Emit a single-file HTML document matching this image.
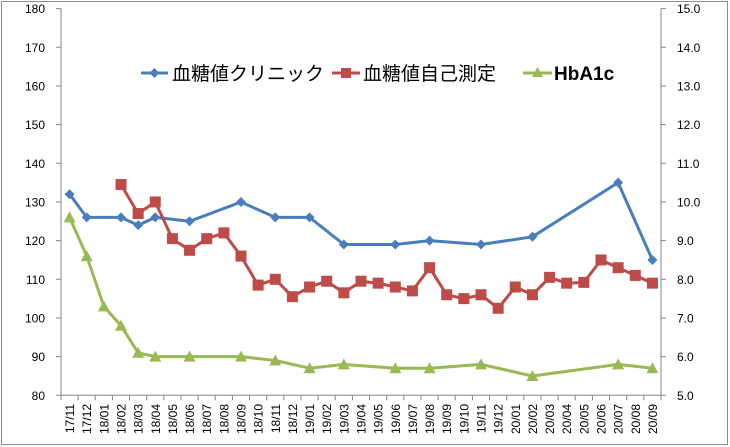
<!DOCTYPE html>
<html><head><meta charset="utf-8"><style>
html,body{margin:0;padding:0;background:#fff;}
svg{display:block;}
text{font-family:"Liberation Sans","Noto Sans CJK JP",sans-serif;}
</style></head><body>
<svg id="c" width="730" height="447" xmlns="http://www.w3.org/2000/svg">
<rect x="1.5" y="1.5" width="726" height="443" fill="#fff" stroke="#8c8c8c" stroke-width="1"/>
<g id="g"></g>
<text x="172" y="80" font-size="19" fill="#000">血糖値クリニック</text>
<text x="363" y="80" font-size="19" fill="#000">血糖値自己測定</text>
<text x="554" y="80" font-size="19" font-weight="bold" fill="#000">HbA1c</text>
<line x1="141" y1="73" x2="168" y2="73" stroke="#4a7ebb" stroke-width="3"/>
<path d="M154.5 68 L159.5 73 L154.5 78 L149.5 73Z" fill="#4a7ebb"/>
<line x1="332" y1="73" x2="360" y2="73" stroke="#be4b48" stroke-width="3"/>
<rect x="341" y="68" width="10" height="10" fill="#be4b48"/>
<line x1="523" y1="73" x2="552" y2="73" stroke="#98b954" stroke-width="3"/>
<path d="M537.5 67 L543 77 L532 77Z" fill="#98b954"/>
</svg>
<script>
var g=document.getElementById('g'),s='';
var L=61,R=661,T=8.6,B=395.3,n=35,w=(R-L)/n;
function Y(v){return B-(v-80)*(B-T)/100;}
function X(i){return L+w*(i+0.5);}
var labs=['17/11','17/12','18/01','18/02','18/03','18/04','18/05','18/06','18/07','18/08','18/09','18/10','18/11','18/12','19/01','19/02','19/03','19/04','19/05','19/06','19/07','19/08','19/09','19/10','19/11','19/12','20/01','20/02','20/03','20/04','20/05','20/06','20/07','20/08','20/09'];
s+='<line x1="'+L+'" y1="'+T+'" x2="'+L+'" y2="'+B+'" stroke="#868686"/>';
s+='<line x1="'+R+'" y1="'+T+'" x2="'+R+'" y2="'+B+'" stroke="#868686"/>';
s+='<line x1="'+L+'" y1="'+B+'" x2="'+R+'" y2="'+B+'" stroke="#868686"/>';
for(var k=0;k<=10;k++){var v=80+k*10,y=Y(v);
s+='<line x1="'+(L-5)+'" y1="'+y+'" x2="'+L+'" y2="'+y+'" stroke="#868686"/>';
s+='<line x1="'+R+'" y1="'+y+'" x2="'+(R+5)+'" y2="'+y+'" stroke="#868686"/>';
s+='<text x="45" y="'+(y+4.5)+'" font-size="12" text-anchor="end">'+v+'</text>';
s+='<text x="677" y="'+(y+4.5)+'" font-size="12">'+(5+k).toFixed(1)+'</text>';}
for(var i=0;i<=n;i++){var x=L+w*i;s+='<line x1="'+x+'" y1="'+B+'" x2="'+x+'" y2="'+(B+5)+'" stroke="#868686"/>';}
for(var i=0;i<n;i++){var x=X(i)+4.5;s+='<text transform="translate('+x+',404) rotate(-90)" font-size="12" text-anchor="end">'+labs[i]+'</text>';}
var blue=[[0,132],[1,126],[3,126],[4,124],[5,126],[7,125],[10,130],[12,126],[14,126],[16,119],[19,119],[21,120],[24,119],[27,121],[32,135],[34,115]];
var red=[[3,134.5],[4,127],[5,130],[6,120.5],[7,117.5],[8,120.5],[9,122],[10,116],[11,108.5],[12,110],[13,105.5],[14,108],[15,109.5],[16,106.5],[17,109.5],[18,109],[19,108],[20,107],[21,113],[22,106],[23,105],[24,106],[25,102.5],[26,108],[27,106],[28,110.5],[29,109],[30,109.2],[31,115],[32,113],[33,111],[34,109]];
var gr=[[0,9.6],[1,8.6],[2,7.3],[3,6.8],[4,6.1],[5,6.0],[7,6.0],[10,6.0],[12,5.9],[14,5.7],[16,5.8],[19,5.7],[21,5.7],[24,5.8],[27,5.5],[32,5.8],[34,5.7]].map(function(p){return [p[0],80+(p[1]-5)*10];});
function line(d,c){return '<polyline fill="none" stroke="'+c+'" stroke-width="3" stroke-linejoin="round" points="'+d.map(function(p){return X(p[0]).toFixed(1)+','+Y(p[1]).toFixed(1);}).join(' ')+'"/>';}
s+=line(blue,'#4a7ebb');
blue.forEach(function(p){var x=X(p[0]),y=Y(p[1]);s+='<path d="M'+x+' '+(y-5)+' L'+(x+5)+' '+y+' L'+x+' '+(y+5)+' L'+(x-5)+' '+y+'Z" fill="#4a7ebb"/>';});
s+=line(red,'#be4b48');
red.forEach(function(p){var x=X(p[0]),y=Y(p[1]);s+='<rect x="'+(x-5.5)+'" y="'+(y-5.5)+'" width="11" height="11" fill="#be4b48"/>';});
s+=line(gr,'#98b954');
gr.forEach(function(p){var x=X(p[0]),y=Y(p[1]);s+='<path d="M'+x+' '+(y-6)+' L'+(x+6)+' '+(y+5)+' L'+(x-6)+' '+(y+5)+'Z" fill="#98b954"/>';});
g.innerHTML=s;
</script>
</body></html>
